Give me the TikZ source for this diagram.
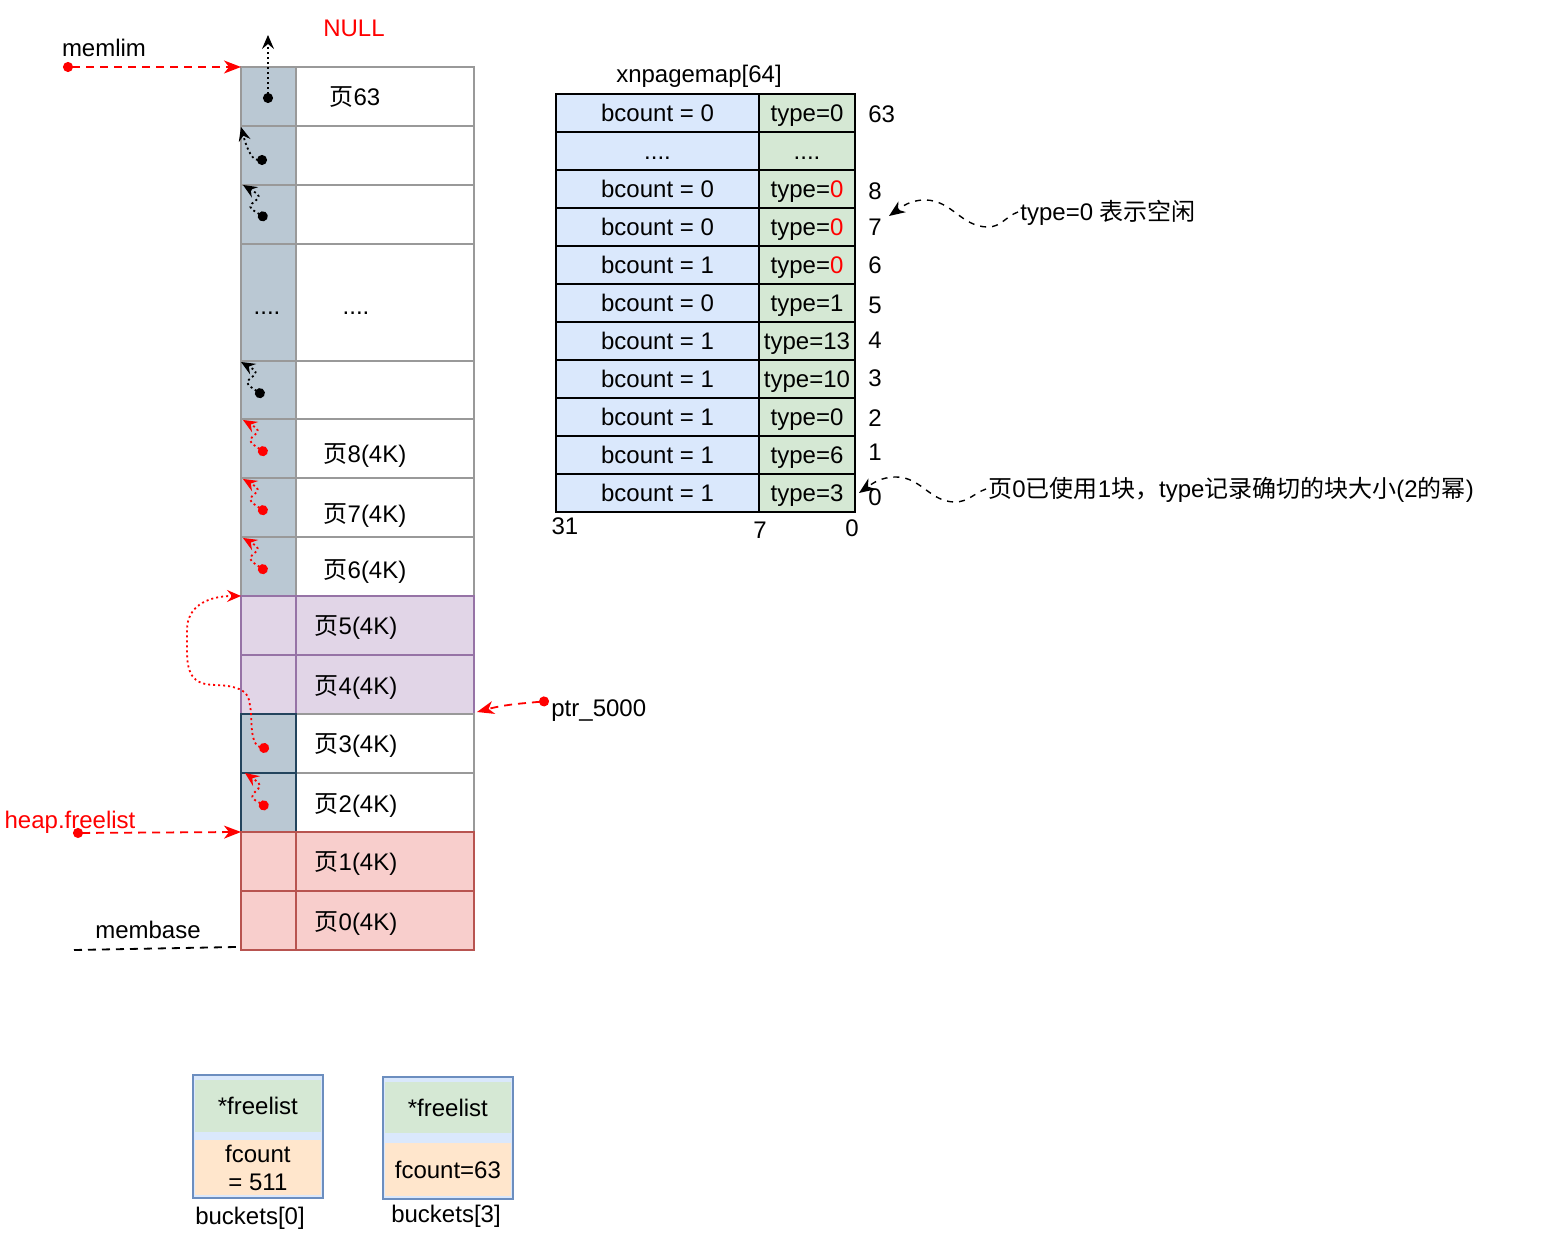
\documentclass[tikz,border=0pt]{standalone}
\usepackage{fontspec}
\setmainfont{Liberation Sans}
\newfontfamily\cjk{Noto Sans CJK SC}
\newcommand{\zh}[1]{{\cjk #1}}
\usetikzlibrary{arrows.meta}

\definecolor{pagegray}{HTML}{BAC8D3}
\definecolor{linegray}{HTML}{999999}
\definecolor{navyline}{HTML}{23445D}
\definecolor{lilac}{HTML}{E1D5E7}
\definecolor{lilacline}{HTML}{9673A6}
\definecolor{rose}{HTML}{F8CECC}
\definecolor{roseline}{HTML}{B85450}
\definecolor{paleblue}{HTML}{DAE8FC}
\definecolor{blueline}{HTML}{6C8EBF}
\definecolor{palegreen}{HTML}{D5E8D4}
\definecolor{paleorange}{HTML}{FFE6CC}

\tikzset{
	txt/.style={font=\fontsize{12}{14}\selectfont, inner sep=1pt},
	line/.style={txt, text height=10pt, text depth=1pt},
	cell/.style={draw, line width=0.9pt, inner sep=0pt, outer sep=0pt, anchor=north west},
	lcell/.style={cell, minimum width=27.5pt},
	rcell/.style={cell, minimum width=89pt},
	mapb/.style={cell, line, inner sep=0pt, fill=paleblue, draw=black, minimum width=101.5pt, minimum height=19pt},
	mapt/.style={cell, line, inner sep=0pt, fill=palegreen, draw=black, minimum width=48pt, minimum height=19pt},
	band/.style={txt, inner sep=0pt, anchor=north west, minimum width=63pt, align=center},
	chain/.style={{Circle[length=5pt]}-{Stealth[length=7pt,width=6pt,inset=2.5pt]}, line width=0.9pt, dash pattern=on 1pt off 1.5pt, rounded corners=2.5pt},
	ptr/.style={{Circle[length=5pt]}-{Stealth[length=8.5pt,width=6.5pt,inset=2.5pt]}, line width=0.9pt, dash pattern=on 4pt off 3pt},
	note/.style={-{Stealth[length=8pt,width=6.5pt,inset=2.5pt]}, line width=0.7pt, dash pattern=on 3pt off 3pt},
}

\begin{document}
\begin{tikzpicture}[x=0.5pt, y=-0.5pt]
	\useasboundingbox (0,0) rectangle (1544,1234);

	% Paginas livres (cinza)
	\foreach \n/\y/\h in {a/67/29.5pt, b/126/29.5pt, c/185/29.5pt, d/244/58.5pt, e/361/29pt, f/419/29.5pt, g/478/29.5pt, h/537/29.5pt}{
		\node[lcell, fill=pagegray, draw=linegray, minimum height=\h] (l\n) at (241,\y) {};
		\node[rcell, draw=linegray, minimum height=\h] (r\n) at (296,\y) {};
	}
	% Paginas usadas (lilas)
	\foreach \n/\y in {i/596, j/655}{
		\node[lcell, fill=lilac, draw=lilacline, minimum height=29.5pt] (l\n) at (241,\y) {};
		\node[rcell, fill=lilac, draw=lilacline, minimum height=29.5pt] (r\n) at (296,\y) {};
	}
	% Paginas na freelist
	\foreach \n/\y in {k/714, l/773}{
		\node[rcell, draw=linegray, minimum height=29.5pt] (r\n) at (296,\y) {};
		\node[lcell, fill=pagegray, draw=navyline, minimum height=29.5pt] (l\n) at (241,\y) {};
	}
	% Paginas usadas (vermelho)
	\foreach \n/\y in {m/832, n/891}{
		\node[lcell, fill=rose, draw=roseline, minimum height=29.5pt] (l\n) at (241,\y) {};
		\node[rcell, fill=rose, draw=roseline, minimum height=29.5pt] (r\n) at (296,\y) {};
	}

	% Rotulos das paginas
	\node[line] (pg63) at (355,97)  {\zh{页}63};
	\node[line] (dotl) at (267,306) {....};
	\node[line] (dotr) at (356,306) {....};
	\node[line] (pg8)  at (365,454) {\zh{页}8(4K)};
	\node[line] (pg7)  at (365,514) {\zh{页}7(4K)};
	\node[line] (pg6)  at (365,570) {\zh{页}6(4K)};
	\node[line] (pg5)  at (356,626) {\zh{页}5(4K)};
	\node[line] (pg4)  at (356,686) {\zh{页}4(4K)};
	\node[line] (pg3)  at (356,744) {\zh{页}3(4K)};
	\node[line] (pg2)  at (356,804) {\zh{页}2(4K)};
	\node[line] (pg1)  at (356,862) {\zh{页}1(4K)};
	\node[line] (pg0)  at (356,922) {\zh{页}0(4K)};

	% Encadeamento
	\node[txt, text=red] (null) at (354,28) {NULL};
	\coordinate (nulltip) at (268,35);
	\coordinate (d63) at (268,103);	\coordinate (d62) at (267,160);	\coordinate (d61) at (267,219);
	\coordinate (d9) at (264,396);	\coordinate (d8) at (267,454);	\coordinate (d7) at (267,513);
	\coordinate (d6) at (267,572);	\coordinate (d3) at (269,749);	\coordinate (d2) at (268,808);
	\coordinate (up62) at (241,127);	\coordinate (up61) at (243,185);	\coordinate (up9) at (241,362);
	\coordinate (up8) at (243,420);	\coordinate (up7) at (243,479);	\coordinate (up6) at (243,538);
	\coordinate (up2) at (245,773);

	\draw[chain] (d63) -- (nulltip);
	\draw[chain] (d62) to[out=180,in=-75] (up62);
	\draw[chain] (d61) -- ++(-19,-12) -- ++(13,-11) -- (up61);
	\draw[chain] (d9) -- ++(-19,-13) -- ++(13,-11) -- (up9);
	\foreach \p in {8,7,6}
		\draw[chain, red] (d\p) -- ++(-19,-13) -- ++(12,-11) -- (up\p);
	\draw[chain, red] (d2) -- ++(-18,-11) -- ++(12,-12) -- (up2);
	\draw[chain, red] (d3) .. controls (250,745) and (252,720) .. (250,705)
		.. controls (247,690) and (235,686) .. (215,685)
		.. controls (185,683) and (187,660) .. (187,635)
		.. controls (187,608) and (205,596) .. (li.north west);

	% Ponteiros
	\node[txt] (memlim) at (104,48) {memlim};
	\coordinate (memlimdot) at (63,67);
	\draw[ptr, red] (memlimdot) -- (la.north west);

	\node[txt, text=red] (freelist) at (70,822) {heap.freelist};
	\coordinate (freedot) at (73,833);
	\draw[ptr, red] (freedot) -- (lm.north west);

	\node[txt] (membase) at (148,930) {membase};
	\coordinate (mb0) at (74,950);
	\coordinate (mb1) at (237,947);
	\draw[line width=0.9pt, dash pattern=on 4pt off 3pt] (mb0) -- (mb1);

	\node[line, anchor=west] (ptr5000) at (549,708) {ptr\_5000};
	\coordinate (ptrdot) at (549,701);
	\coordinate (ptrtip) at (477,712);
	\draw[ptr, red] (ptrdot) to[out=185,in=15] (ptrtip);

	% xnpagemap
	\node[txt] (maplabel) at (699,76) {xnpagemap[64]};
	\foreach \b/\t [count=\i from 0] in {
		{bcount = 0}/{type=0},
		{....}/{....},
		{bcount = 0}/{type=\textcolor{red}{0}},
		{bcount = 0}/{type=\textcolor{red}{0}},
		{bcount = 1}/{type=\textcolor{red}{0}},
		{bcount = 0}/{type=1},
		{bcount = 1}/{type=13},
		{bcount = 1}/{type=10},
		{bcount = 1}/{type=0},
		{bcount = 1}/{type=6},
		{bcount = 1}/{type=3}}{
		\pgfmathsetmacro{\y}{94+38*\i}
		\node[mapb] (bc\i) at (556,\y) {\b};
		\node[mapt] (ty\i) at (759,\y) {\t};
	}
	\foreach \n/\ny in {63/114, 8/191, 7/227, 6/265, 5/305, 4/340, 3/378, 2/418, 1/452, 0/497}
		\node[txt, anchor=west] (no\n) at (866,\ny) {\n};
	\node[txt] (bit31) at (565,526) {31};
	\node[txt] (bit7)  at (760,530) {7};
	\node[txt] (bit0)  at (852,528) {0};

	% Notas
	\node[line, anchor=west] (note1) at (1018,212) {type=0 \zh{表示空闲}};
	\coordinate (note1tip) at (889,216);
	\draw[note] (note1.west) to[out=200,in=0] (988,227) to[out=180,in=0] (925,200) to[out=180,in=35] (note1tip);

	\node[line, anchor=west] (note2) at (986,489) {\zh{页}0\zh{已使用}1\zh{块，}type\zh{记录确切的块大小}(2\zh{的幂})};
	\coordinate (note2tip) at (859,493);
	\draw[note] (note2.west) to[out=200,in=0] (955,502) to[out=180,in=0] (896,477) to[out=180,in=35] (note2tip);

	% Buckets
	\node[cell, fill=paleblue, draw=blueline, minimum width=65pt, minimum height=61.5pt] (bk0) at (193,1075) {};
	\node[band, fill=palegreen, minimum height=26pt] (fl0) at (194.5,1080) {*freelist};
	\node[band, fill=paleorange, minimum height=27.5pt] (fc0) at (194.5,1140) {fcount\\= 511};
	\node[txt] (bname0) at (250,1218) {buckets[0]};

	\node[cell, fill=paleblue, draw=blueline, minimum width=65pt, minimum height=61pt] (bk3) at (383,1077) {};
	\node[band, fill=palegreen, minimum height=25.5pt] (fl3) at (384.5,1082) {*freelist};
	\node[band, fill=paleorange, minimum height=26.5pt] (fc3) at (384.5,1143) {fcount=63};
	\node[txt] (bname3) at (446,1216) {buckets[3]};
\end{tikzpicture}
\end{document}
